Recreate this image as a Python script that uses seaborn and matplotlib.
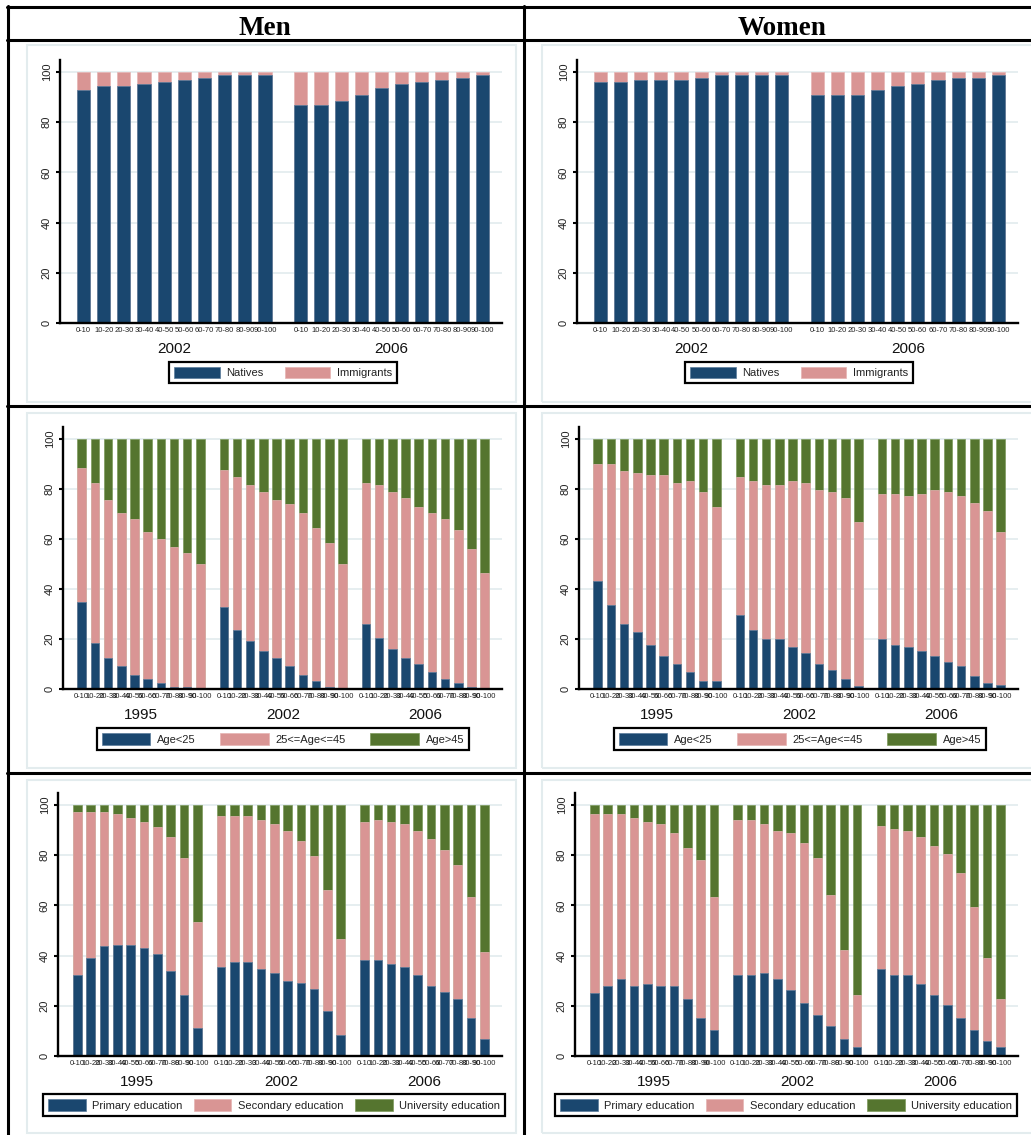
import numpy as np
import pandas as pd
import matplotlib.pyplot as plt
import seaborn as sns
from matplotlib.lines import Line2D
from matplotlib.patches import Patch, Rectangle

# ==============================================================================
# Data (shares in %), one inner list per year
# ==============================================================================
deciles = ['0-10', '10-20', '20-30', '30-40', '40-50',
           '50-60', '60-70', '70-80', '80-90', '90-100']
years_imm = ['2002', '2006']
years_long = ['1995', '2002', '2006']

imm_labels = ['Natives', 'Immigrants']
age_labels = ['Age<25', '25<=Age<=45', 'Age>45']
edu_labels = ['Primary education', 'Secondary education', 'University education']

men_natives = [[92.7, 94.3, 94.3, 95.3, 96.2, 97.0, 97.8, 98.7, 98.7, 98.7],
               [86.8, 86.8, 88.5, 91.0, 93.5, 95.3, 96.2, 97.0, 97.8, 98.7]]
men_immigrants = [[7.3, 5.7, 5.7, 4.7, 3.8, 3.0, 2.2, 1.3, 1.3, 1.3],
                  [13.2, 13.2, 11.5, 9.0, 6.5, 4.7, 3.8, 3.0, 2.2, 1.3]]
women_natives = [[96.0, 96.2, 96.8, 97.0, 97.0, 97.8, 98.7, 98.7, 98.7, 98.7],
                 [91.0, 91.0, 91.0, 92.7, 94.3, 95.3, 97.0, 97.8, 97.8, 98.7]]
women_immigrants = [[4.0, 3.8, 3.2, 3.0, 3.0, 2.2, 1.3, 1.3, 1.3, 1.3],
                    [9.0, 9.0, 9.0, 7.3, 5.7, 4.7, 3.0, 2.2, 2.2, 1.3]]

men_young = [[34.9, 18.5, 12.6, 9.1, 5.7, 4.0, 2.3, 0.8, 0.8, 0.0],
             [33.0, 23.7, 19.4, 15.2, 12.6, 9.1, 5.7, 3.1, 0.8, 0.0],
             [26.2, 20.4, 16.1, 12.6, 10.1, 6.7, 4.0, 2.3, 0.8, 0.0]]
men_middle = [[53.4, 63.8, 63.0, 61.2, 62.2, 58.7, 57.9, 56.0, 53.5, 50.1],
              [54.5, 61.1, 62.1, 63.6, 63.0, 64.8, 64.6, 61.3, 57.8, 50.1],
              [56.1, 61.1, 62.7, 63.7, 62.9, 63.6, 63.9, 61.2, 55.3, 46.6]]
men_old = [[11.7, 17.7, 24.4, 29.7, 32.1, 37.3, 39.8, 43.2, 45.7, 49.9],
           [12.5, 15.2, 18.5, 21.2, 24.4, 26.1, 29.7, 35.6, 41.4, 49.9],
           [17.7, 18.5, 21.2, 23.7, 27.0, 29.7, 32.1, 36.5, 43.9, 53.4]]
women_young = [[43.3, 33.8, 26.2, 22.9, 17.7, 13.3, 10.1, 6.7, 3.1, 3.1],
               [29.7, 23.7, 20.2, 20.2, 16.8, 14.4, 10.1, 7.5, 4.0, 1.3],
               [20.2, 17.7, 16.8, 15.2, 13.4, 10.8, 9.2, 5.1, 2.4, 1.6]]
women_middle = [[46.7, 56.2, 61.2, 63.7, 67.9, 72.3, 72.2, 76.5, 75.9, 69.9],
                [55.1, 59.5, 61.3, 61.3, 66.4, 67.9, 69.7, 71.3, 72.3, 65.7],
                [57.8, 60.3, 60.4, 62.8, 66.4, 68.0, 68.0, 69.5, 68.8, 61.1]]
women_old = [[10.0, 10.0, 12.6, 13.4, 14.4, 14.4, 17.7, 16.8, 21.0, 27.0],
             [15.2, 16.8, 18.5, 18.5, 16.8, 17.7, 20.2, 21.2, 23.7, 33.0],
             [22.0, 22.0, 22.8, 22.0, 20.2, 21.2, 22.8, 25.4, 28.8, 37.3]]

men_primary = [[32.2, 38.9, 43.9, 44.2, 44.2, 43.2, 40.6, 34.0, 24.5, 11.0],
               [35.5, 37.3, 37.3, 34.7, 33.2, 29.7, 28.9, 26.5, 17.8, 8.4],
               [38.1, 38.1, 36.5, 35.4, 32.2, 28.0, 25.5, 22.9, 15.3, 6.8]]
men_secondary = [[65.1, 58.4, 53.4, 52.4, 50.6, 50.0, 50.8, 53.3, 54.3, 42.3],
                 [60.1, 58.3, 58.3, 59.3, 59.1, 60.1, 56.6, 53.1, 48.2, 38.2],
                 [55.1, 55.9, 56.7, 56.9, 57.6, 58.3, 56.7, 53.4, 48.2, 34.7]]
men_university = [[2.7, 2.7, 2.7, 3.4, 5.2, 6.8, 8.6, 12.7, 21.2, 46.7],
                  [4.4, 4.4, 4.4, 6.0, 7.7, 10.2, 14.5, 20.4, 34.0, 53.4],
                  [6.8, 6.0, 6.8, 7.7, 10.2, 13.7, 17.8, 23.7, 36.5, 58.5]]
women_primary = [[25.3, 28.0, 30.5, 28.0, 28.8, 28.0, 28.0, 22.9, 15.3, 10.3],
                 [32.2, 32.2, 33.2, 30.5, 26.3, 21.2, 16.2, 11.9, 6.9, 3.6],
                 [34.7, 32.2, 32.2, 28.8, 24.5, 20.3, 15.3, 10.3, 6.0, 3.6]]
women_secondary = [[71.3, 68.6, 66.1, 66.8, 64.4, 64.3, 61.0, 60.1, 62.7, 53.2],
                   [61.8, 61.8, 59.1, 59.3, 62.7, 63.5, 62.6, 52.4, 35.3, 20.9],
                   [56.8, 58.4, 57.6, 58.5, 59.3, 60.2, 57.5, 48.9, 32.9, 19.2]]
women_university = [[3.4, 3.4, 3.4, 5.2, 6.8, 7.7, 11.0, 17.0, 22.0, 36.5],
                     [6.0, 6.0, 7.7, 10.2, 11.0, 15.3, 21.2, 35.7, 57.8, 75.5],
                     [8.5, 9.4, 10.2, 12.7, 16.2, 19.5, 27.2, 40.8, 61.1, 77.2]]

# ==============================================================================
# Style
# ==============================================================================
NAVY, PINK, GREEN = '#1a476f', '#d99594', '#55752f'
EDGES = {NAVY: '#5a7c9c', PINK: '#e6b4b3', GREEN: '#7d9a5c'}
GRID = '#e6eef0'
REGION = '#e3ecee'
GROUP_GAP = 0.78

sns.set_theme(style='white')
plt.rcParams['font.family'] = ['Liberation Sans', 'DejaVu Sans']
plt.rcParams['text.color'] = 'black'

W, H = 1031, 1135
fig = plt.figure(figsize=(W / 100, H / 100), dpi=100)


def fig_rect(left, top, right, bottom):
    return [left / W, 1 - bottom / H, (right - left) / W, (bottom - top) / H]


def draw_panel(rect, years, series, names, colors, pads, legend_xy, legend_opts):
    ax = fig.add_axes(fig_rect(*rect))
    rows = []
    for g, year in enumerate(years):
        for i, dec in enumerate(deciles):
            rec = {'year': year, 'decile': dec,
                   'pos': g * (len(deciles) + GROUP_GAP) + i}
            for name, s in zip(names, series):
                rec[name] = s[g][i]
            rows.append(rec)
    df = pd.DataFrame(rows)
    tops = df[names].cumsum(axis=1)

    # stacked bars: draw the cumulative totals from the top segment downwards
    for k in range(len(names) - 1, -1, -1):
        sns.barplot(x=df['pos'], y=tops[names[k]], orient='x', native_scale=True,
                    width=0.65, color=colors[k], saturation=1, errorbar=None,
                    edgecolor=EDGES[colors[k]], linewidth=0.5, ax=ax)

    ax.set_xlim(-pads[0], df['pos'].max() + pads[1])
    ax.set_ylim(0, 104.8)
    ax.set_xlabel('')
    ax.set_ylabel('')
    ax.set_yticks([0, 20, 40, 60, 80, 100])
    ax.set_xticks(df['pos'])
    ax.set_xticklabels(df['decile'], fontsize=5.5, color='#222222')
    ax.tick_params(axis='x', length=0, pad=3)
    ax.tick_params(axis='y', length=3, width=1.5, pad=3, labelsize=8,
                   left=True, colors='black')
    for lab in ax.get_yticklabels():
        lab.set_rotation(90)
        lab.set_va('center')
        lab.set_color('#222222')
    ax.yaxis.grid(True, color=GRID, lw=1.4)
    ax.set_axisbelow(True)
    for side in ['top', 'right']:
        ax.spines[side].set_visible(False)
    for side in ['left', 'bottom']:
        ax.spines[side].set_linewidth(1.7)
        ax.spines[side].set_color('black')

    for year in years:
        xc = df.loc[df['year'] == year, 'pos'].mean()
        ax.annotate(year, xy=(xc, 0), xycoords=('data', 'axes fraction'),
                    xytext=(0, -18.4), textcoords='offset points',
                    ha='center', va='center', fontsize=11, color='#111111')

    handles = [Patch(facecolor=c, edgecolor=EDGES[c], lw=0.5) for c in colors]
    leg = ax.legend(handles, names, loc='center',
                    bbox_to_anchor=(legend_xy[0] / W, 1 - legend_xy[1] / H),
                    bbox_transform=fig.transFigure, ncol=len(names), fontsize=8,
                    frameon=True, fancybox=False, edgecolor='black', framealpha=1,
                    handleheight=1.2, handletextpad=0.6, borderpad=0.45,
                    **legend_opts)
    leg.get_frame().set_linewidth(1.6)
    for t in leg.get_texts():
        t.set_color('#222222')
    return ax


# graph region frames
for top, bottom in [(45, 402), (413, 768), (780, 1133)]:
    for left, right in [(27, 516), (542, 1045)]:
        fig.add_artist(Rectangle((left / W, 1 - bottom / H), (right - left) / W,
                                 (bottom - top) / H, transform=fig.transFigure,
                                 fill=False, edgecolor=REGION, lw=1.5))

# row 1: natives / immigrants
opts1 = dict(handlelength=4.1, columnspacing=1.9)
draw_panel((60, 60, 502, 323), years_imm, [men_natives, men_immigrants],
           imm_labels, [NAVY, PINK], (1.17, 0.98), (283, 372.5), opts1)
draw_panel((577, 60, 1018, 323), years_imm, [women_natives, women_immigrants],
           imm_labels, [NAVY, PINK], (1.17, 0.98), (799, 372.5), opts1)

# row 2: age groups
opts2 = dict(handlelength=4.4, columnspacing=2.2)
draw_panel((63, 427, 502, 689), years_long, [men_young, men_middle, men_old],
           age_labels, [NAVY, PINK, GREEN], (1.42, 1.32), (283, 739), opts2)
draw_panel((579, 427, 1018, 689), years_long, [women_young, women_middle, women_old],
           age_labels, [NAVY, PINK, GREEN], (1.42, 1.32), (800, 739), opts2)

# row 3: education
opts3 = dict(handlelength=3.4, columnspacing=1.0)
draw_panel((58, 793, 502, 1056), years_long, [men_primary, men_secondary, men_university],
           edu_labels, [NAVY, PINK, GREEN], (1.45, 1.32), (274, 1105), opts3)
draw_panel((575, 793, 1018, 1056), years_long,
           [women_primary, women_secondary, women_university],
           edu_labels, [NAVY, PINK, GREEN], (1.45, 1.32), (786, 1105), opts3)

# table frame and headers
def hline(y, x0=7, x1=W):
    fig.add_artist(Line2D([x0 / W, x1 / W], [1 - y / H, 1 - y / H],
                          transform=fig.transFigure, color='black', lw=2.2))


def vline(x, y0=6, y1=H):
    fig.add_artist(Line2D([x / W, x / W], [1 - y0 / H, 1 - y1 / H],
                          transform=fig.transFigure, color='black', lw=2.2))


for y in [7, 39.5, 406, 773]:
    hline(y)
for x in [8, 524]:
    vline(x)

fig.text(265 / W, 1 - 35 / H, 'Men', ha='center', va='baseline', color='black',
         family=['Liberation Serif', 'DejaVu Serif'], fontweight='bold', fontsize=19.5)
fig.text(782 / W, 1 - 35 / H, 'Women', ha='center', va='baseline', color='black',
         family=['Liberation Serif', 'DejaVu Serif'], fontweight='bold', fontsize=19.5)

fig.savefig('out.png', dpi=100, facecolor='white')
